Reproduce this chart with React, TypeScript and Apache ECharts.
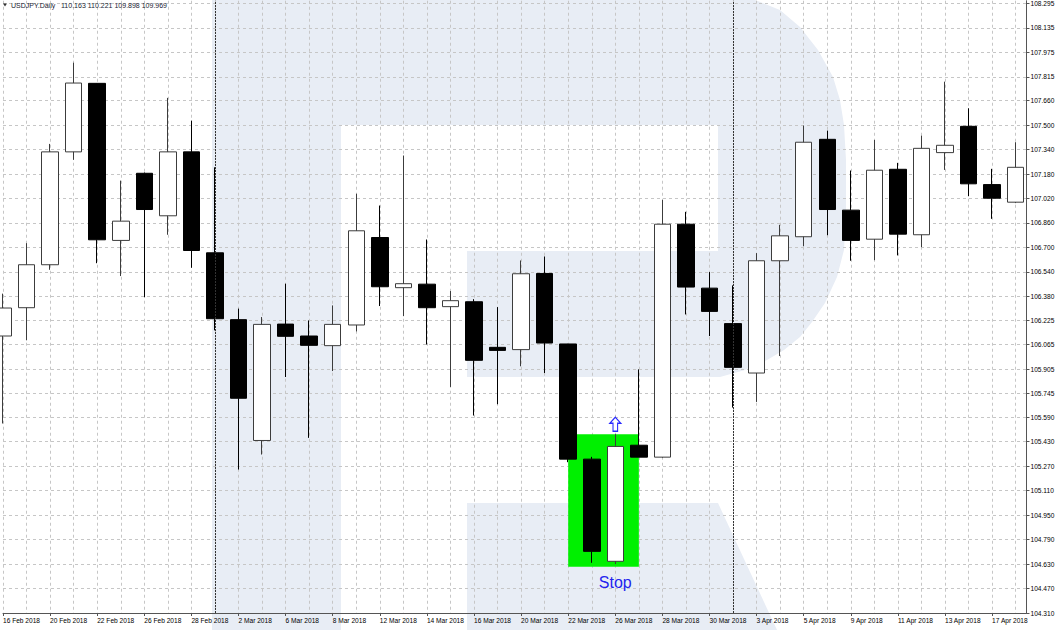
import React, { useEffect, useRef } from "react";
import * as echarts from "echarts";

// ---- data ----
const dates = [
  "16 Feb 2018", "19 Feb 2018", "20 Feb 2018", "21 Feb 2018", "22 Feb 2018", "23 Feb 2018",
  "26 Feb 2018", "27 Feb 2018", "28 Feb 2018", "1 Mar 2018", "2 Mar 2018", "5 Mar 2018",
  "6 Mar 2018", "7 Mar 2018", "8 Mar 2018", "9 Mar 2018", "12 Mar 2018", "13 Mar 2018",
  "14 Mar 2018", "15 Mar 2018", "16 Mar 2018", "19 Mar 2018", "20 Mar 2018", "21 Mar 2018",
  "22 Mar 2018", "23 Mar 2018", "26 Mar 2018", "27 Mar 2018", "28 Mar 2018", "29 Mar 2018",
  "30 Mar 2018", "2 Apr 2018", "3 Apr 2018", "4 Apr 2018", "5 Apr 2018", "6 Apr 2018",
  "9 Apr 2018", "10 Apr 2018", "11 Apr 2018", "12 Apr 2018", "13 Apr 2018", "16 Apr 2018",
  "17 Apr 2018", "18 Apr 2018",
];

const xLabelIndex = [0, 2, 4, 6, 8, 10, 12, 14, 16, 18, 20, 22, 24, 26, 28, 30, 32, 34, 36, 38, 40, 42];

const opens = [
  106.121, 106.306, 106.587, 107.325, 107.773, 106.746, 107.185, 106.907, 107.325, 106.665,
  106.228, 105.438, 106.199, 106.121, 106.058, 106.193, 106.765, 106.437, 106.460, 106.313,
  106.345, 106.047, 106.032, 106.530, 106.069, 105.316, 104.648, 105.407, 105.329, 106.852,
  106.434, 106.202, 105.879, 106.613, 106.770, 107.407, 106.944, 106.754, 107.211, 106.783,
  107.320, 107.492, 107.111, 106.996,
];
const closes = [
  106.304, 106.587, 107.325, 107.775, 106.750, 106.872, 106.948, 107.325, 106.680, 106.234,
  105.714, 106.197, 106.119, 106.060, 106.197, 106.809, 106.443, 106.463, 106.306, 106.352,
  105.962, 106.027, 106.528, 106.075, 105.316, 104.713, 105.399, 105.329, 106.852, 106.441,
  106.282, 105.916, 106.613, 106.776, 107.388, 106.948, 106.746, 107.205, 106.787, 107.348,
  107.368, 107.116, 107.022, 107.224,
];
const lows = [
  105.549, 106.093, 106.554, 107.273, 106.597, 106.513, 106.375, 106.783, 106.567, 106.158,
  105.248, 105.346, 105.853, 105.455, 105.892, 106.151, 106.317, 106.251, 106.065, 105.788,
  105.601, 105.675, 105.923, 105.879, 105.296, 104.638, 104.630, 105.329, 105.325, 106.262,
  106.121, 105.653, 105.690, 105.990, 106.708, 106.780, 106.613, 106.617, 106.648, 106.702,
  107.207, 107.035, 106.887, 106.990,
];
const highs = [
  106.398, 106.728, 107.377, 107.908, 107.775, 107.137, 107.190, 107.678, 107.529, 107.224,
  106.300, 106.245, 106.463, 106.223, 106.321, 107.051, 106.974, 107.301, 106.752, 106.415,
  106.362, 106.310, 106.615, 106.641, 106.070, 105.331, 105.479, 105.903, 107.011, 106.933,
  106.539, 106.452, 106.663, 106.848, 107.497, 107.464, 107.203, 107.403, 107.253, 107.431,
  107.784, 107.610, 107.214, 107.388,
];

const yTickLabels = [
  "104.310", "104.470", "104.630", "104.790", "104.950", "105.110", "105.270", "105.430",
  "105.590", "105.745", "105.905", "106.065", "106.225", "106.380", "106.540", "106.700",
  "106.860", "107.020", "107.180", "107.340", "107.500", "107.660", "107.815", "107.975",
  "108.135", "108.295",
];
const yTickValues = yTickLabels.map(Number);

const titleSymbol = "USDJPY.Daily";
const titleValues = "110.163 110.221 109.898 109.969";

const separatorIndex = [9, 31];
const stopBoxFrom = [24, 104.612];
const stopBoxTo = [27, 105.479];
const arrowAt = [26, 105.544];
const stopLabelAt = [26, 104.512];
const stopText = "Stop";

const Y_MIN = 104.31;
const Y_MAX = 108.313;
const X_MIN = 0;
const X_MAX = 43.46;

const LOGO = "#e8edf5";
const FONT = "Liberation Sans, Arial, sans-serif";

export default function App() {
  const ref = useRef<HTMLDivElement>(null);

  useEffect(() => {
    if (!ref.current) return;
    const chart = echarts.init(ref.current, null, { renderer: "svg" });

    const candles = dates.map((_, i) => [i, opens[i], closes[i], lows[i], highs[i]]);

    const yFormatter = (v: number) => {
      for (let i = 0; i < yTickValues.length; i++) {
        if (Math.abs(yTickValues[i] - v) < 1e-6) return yTickLabels[i];
      }
      return v.toFixed(3);
    };

    const option: any = {
      animation: false,
      backgroundColor: "#ffffff",
      textStyle: { fontFamily: FONT },
      grid: { left: 0, right: 34.5, top: 0, bottom: 17, containLabel: false },
      graphic: [
        {
          type: "rect",
          z: -10,
          silent: true,
          shape: { x: 212, y: 0, width: 129, height: 630 },
          style: { fill: LOGO },
        },
        {
          type: "polygon",
          z: -10,
          silent: true,
          shape: {
            points: [
              [212, 0], [755, 0], [780, 10], [800, 27], [818, 50], [833, 77], [840, 100],
              [844, 125], [846, 160], [846, 210], [844, 250], [837, 277], [825, 303],
              [812, 322], [800, 337], [784, 350], [767, 360], [745, 370], [720, 377],
              [467, 377], [467, 251], [718, 251], [718, 125], [212, 125],
            ],
          },
          style: { fill: LOGO },
        },
        {
          type: "polygon",
          z: -10,
          silent: true,
          shape: { points: [[467, 503], [718, 503], [777, 630], [467, 630]] },
          style: { fill: LOGO },
        },
        {
          type: "polygon",
          z: 100,
          silent: true,
          shape: { points: [[3, 3.5], [7, 3.5], [5, 6.5]] },
          style: { fill: "#333" },
        },
        {
          type: "text",
          z: 100,
          silent: true,
          x: 11,
          y: 5.5,
          style: {
            text: titleSymbol,
            fill: "#1b2433",
            font: "7px " + FONT,
            verticalAlign: "middle",
            align: "left",
          },
        },
        {
          type: "text",
          z: 100,
          silent: true,
          x: 61,
          y: 5.5,
          style: {
            text: titleValues,
            fill: "#1b2433",
            font: "7px " + FONT,
            verticalAlign: "middle",
            align: "left",
          },
        },
      ],
      xAxis: [
        {
          type: "value",
          min: X_MIN,
          max: X_MAX,
          position: "bottom",
          axisLine: { show: true, onZero: false, lineStyle: { color: "#555", width: 1 } },
          axisTick: { show: true, length: 3, customValues: xLabelIndex, lineStyle: { color: "#555" } },
          axisLabel: {
            customValues: xLabelIndex,
            formatter: (v: number) => dates[Math.round(v)],
            align: "left",
            margin: 4,
            fontSize: 6.6,
            color: "#000",
            fontFamily: FONT,
          },
          splitLine: { show: false },
        },
        {
          type: "value",
          min: X_MIN,
          max: X_MAX,
          interval: 1,
          axisLine: { show: false },
          axisTick: { show: false },
          axisLabel: { show: false },
          splitLine: { show: true, lineStyle: { color: "#c6c6c6", type: [3, 3], width: 1 } },
        },
      ],
      yAxis: {
        type: "value",
        position: "right",
        min: Y_MIN,
        max: Y_MAX,
        axisLine: { show: true, onZero: false, lineStyle: { color: "#555", width: 1 } },
        axisTick: { show: true, length: 3, customValues: yTickValues, lineStyle: { color: "#555" } },
        axisLabel: {
          customValues: yTickValues,
          formatter: yFormatter,
          margin: 4,
          fontSize: 6.6,
          color: "#000",
          fontFamily: FONT,
        },
        splitLine: { show: true, lineStyle: { color: "#c6c6c6", type: [3, 3], width: 1 } },
      },
      series: [
        {
          type: "candlestick",
          xAxisIndex: 0,
          yAxisIndex: 0,
          barWidth: 17,
          data: candles,
          itemStyle: {
            color: "#ffffff",
            color0: "#000000",
            borderColor: "#3c3c3c",
            borderColor0: "#000000",
            borderWidth: 1,
          },
          markArea: {
            silent: true,
            itemStyle: { color: "#00f000", opacity: 1 },
            label: { show: false },
            data: [[{ coord: stopBoxFrom }, { coord: stopBoxTo }]],
          },
          markLine: {
            silent: true,
            symbol: ["none", "none"],
            label: { show: false },
            lineStyle: { color: "#333", type: [2, 1], width: 1 },
            data: separatorIndex.map((i) => ({ xAxis: i })),
          },
          markPoint: {
            silent: true,
            data: [
              {
                coord: arrowAt,
                symbol: "path://M6,0 L12,6 L8.5,6 L8.5,14 L3.5,14 L3.5,6 L0,6 Z",
                symbolSize: [11, 14],
                itemStyle: { color: "#ffffff", borderColor: "#2a2aff", borderWidth: 1.2 },
                label: { show: false },
              },
              {
                coord: stopLabelAt,
                symbol: "circle",
                symbolSize: 0,
                itemStyle: { color: "transparent" },
                label: {
                  show: true,
                  position: "inside",
                  formatter: stopText,
                  color: "#2323ee",
                  fontSize: 16,
                  fontFamily: FONT,
                },
              },
            ],
          },
        },
      ],
    };

    chart.setOption(option);
    return () => chart.dispose();
  }, []);

  return (
    <div
      ref={ref}
      style={{ position: "fixed", left: 0, top: 0, width: 1061, height: 630, background: "#fff" }}
    />
  );
}
